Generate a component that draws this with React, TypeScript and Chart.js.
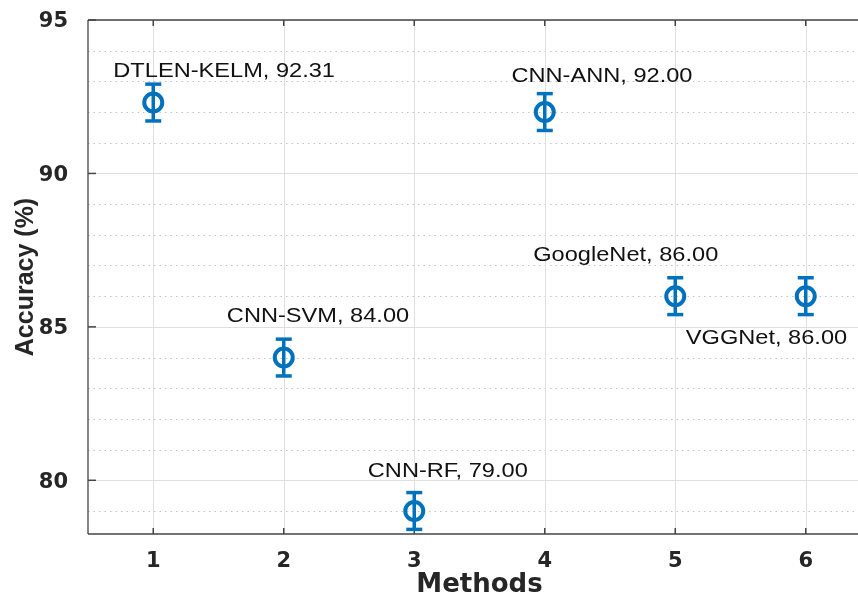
import React, { useEffect, useRef } from "react";
import { Chart, registerables } from "chart.js";

Chart.register(...registerables);

// ---- data ----
const methods = ["DTLEN-KELM", "CNN-SVM", "CNN-RF", "CNN-ANN", "GoogleNet", "VGGNet"];
const methodIndex = [1, 2, 3, 4, 5, 6];
const accuracy = [92.31, 84.0, 79.0, 92.0, 86.0, 86.0];
const errorHalf = [0.6, 0.6, 0.6, 0.6, 0.6, 0.6];
// text anchors (data coordinates: left edge, baseline), like MATLAB text(x, y, str)
const labelX = [0.694, 1.564, 2.644, 3.745, 3.912, 5.081];
const labelY = [93.14, 85.15, 80.12, 92.97, 87.16, 84.44];
const xTicks = [1, 2, 3, 4, 5, 6];
const yTicks = [80, 85, 90, 95];
const yMinorTicks = [79, 81, 82, 83, 84, 86, 87, 88, 89, 91, 92, 93, 94];

const BLUE = "#0072BD";

const decorPlugin = {
  id: "decor",
  beforeDatasetsDraw(chart: any) {
    const { ctx, chartArea: a, scales } = chart;
    const x = scales.x;
    const y = scales.y;
    const line = (x1: number, y1: number, x2: number, y2: number) => {
      ctx.beginPath();
      ctx.moveTo(x1, y1);
      ctx.lineTo(x2, y2);
      ctx.stroke();
    };
    ctx.save();
    // minor dotted grid
    ctx.strokeStyle = "#c2c2c2";
    ctx.lineWidth = 1;
    ctx.setLineDash([1.5, 4]);
    for (const v of yMinorTicks) {
      const py = Math.round(y.getPixelForValue(v)) + 0.5;
      line(a.left, py, a.right, py);
    }
    ctx.setLineDash([]);
    // major grid
    ctx.strokeStyle = "#dfdfdf";
    for (const v of yTicks) {
      const py = Math.round(y.getPixelForValue(v)) + 0.5;
      line(a.left, py, a.right, py);
    }
    for (const v of xTicks) {
      const px = Math.round(x.getPixelForValue(v)) + 0.5;
      line(px, a.top, px, a.bottom);
    }
    // axes box
    ctx.strokeStyle = "#444444";
    ctx.lineWidth = 1.3;
    line(a.left, a.top, a.right, a.top);
    line(a.left, a.bottom, a.right, a.bottom);
    line(a.left, a.top, a.left, a.bottom);
    line(a.right, a.top, a.right, a.bottom);
    // inward tick marks
    ctx.lineWidth = 1.5;
    for (const v of yTicks) {
      const py = y.getPixelForValue(v);
      line(a.left, py, a.left + 8, py);
      line(a.right, py, a.right - 8, py);
    }
    for (const v of xTicks) {
      const px = x.getPixelForValue(v);
      line(px, a.bottom, px, a.bottom - 6);
      line(px, a.top, px, a.top + 6);
    }
    // error bars
    ctx.strokeStyle = BLUE;
    ctx.lineWidth = 3.5;
    for (let i = 0; i < accuracy.length; i++) {
      const px = x.getPixelForValue(methodIndex[i]);
      const yt = y.getPixelForValue(accuracy[i] + errorHalf[i]);
      const yb = y.getPixelForValue(accuracy[i] - errorHalf[i]);
      line(px, yt, px, yb);
      line(px - 8, yt, px + 8, yt);
      line(px - 8, yb, px + 8, yb);
    }
    ctx.restore();
  },
  afterDatasetsDraw(chart: any) {
    const { ctx, scales } = chart;
    const x = scales.x;
    const y = scales.y;
    ctx.save();
    ctx.font = "20px 'Liberation Sans', Arial, sans-serif";
    ctx.fillStyle = "#111111";
    ctx.textAlign = "left";
    ctx.textBaseline = "alphabetic";
    for (let i = 0; i < methods.length; i++) {
      const px = x.getPixelForValue(labelX[i]);
      const py = y.getPixelForValue(labelY[i]);
      ctx.save();
      ctx.translate(px, py);
      ctx.scale(1.18, 1);
      ctx.fillText(`${methods[i]}, ${accuracy[i].toFixed(2)}`, 0, 0);
      ctx.restore();
    }
    ctx.restore();
  },
};

export default function App() {
  const canvasRef = useRef<HTMLCanvasElement | null>(null);

  useEffect(() => {
    const canvas = canvasRef.current;
    if (!canvas) return;
    const tickFont = { family: "'DejaVu Sans', sans-serif", weight: "bold" as const, size: 21 };
    const chart = new Chart(canvas, {
      type: "scatter",
      data: {
        datasets: [
          {
            label: "Accuracy",
            data: methodIndex.map((m, i) => ({ x: m, y: accuracy[i] })),
            pointRadius: 9,
            pointHoverRadius: 9,
            pointBorderWidth: 4,
            pointBorderColor: BLUE,
            pointBackgroundColor: "rgba(0,0,0,0)",
            showLine: false,
          },
        ],
      },
      options: {
        animation: false,
        responsive: false,
        devicePixelRatio: 1,
        layout: { autoPadding: false, padding: { top: 20, right: 9, left: 0, bottom: 0 } },
        plugins: {
          legend: { display: false },
          tooltip: { enabled: false },
        },
        scales: {
          x: {
            type: "linear",
            min: 0.5,
            max: 6.5,
            afterBuildTicks: (s: any) => {
              s.ticks = xTicks.map((v) => ({ value: v }));
            },
            afterFit: (s: any) => {
              s.height = 65;
              s.paddingLeft = 0;
              s.paddingRight = 0;
            },
            grid: { display: false },
            border: { display: false },
            ticks: {
              font: tickFont,
              color: "#262626",
              padding: 7,
              maxRotation: 0,
              autoSkip: false,
              callback: (v: any) => String(v),
            },
            title: {
              display: true,
              text: "Methods",
              color: "#262626",
              font: { family: "'DejaVu Sans', sans-serif", weight: "bold", size: 26, lineHeight: 1 },
              padding: { top: 0, bottom: 1 },
            },
          },
          y: {
            type: "linear",
            min: 78.25,
            max: 95,
            afterBuildTicks: (s: any) => {
              s.ticks = yTicks.map((v) => ({ value: v }));
            },
            afterFit: (s: any) => {
              s.width = 88;
              s.paddingTop = 0;
              s.paddingBottom = 0;
            },
            grid: { display: false },
            border: { display: false },
            ticks: {
              font: tickFont,
              color: "#262626",
              padding: 12,
              labelOffset: 2,
              callback: (v: any) => String(v),
            },
            title: {
              display: true,
              text: "Accuracy (%)",
              color: "#262626",
              font: { family: "'Liberation Sans', Arial, sans-serif", weight: "bold", size: 25, lineHeight: 1 },
              padding: { top: 13.5, bottom: 0 },
            },
          },
        },
      },
      plugins: [decorPlugin],
    });
    return () => chart.destroy();
  }, []);

  return (
    <div
      style={{
        position: "fixed",
        left: 0,
        top: 0,
        width: 858,
        height: 599,
        overflow: "hidden",
        background: "#ffffff",
      }}
    >
      <canvas ref={canvasRef} width={880} height={599} style={{ width: 880, height: 599, display: "block" }} />
    </div>
  );
}
